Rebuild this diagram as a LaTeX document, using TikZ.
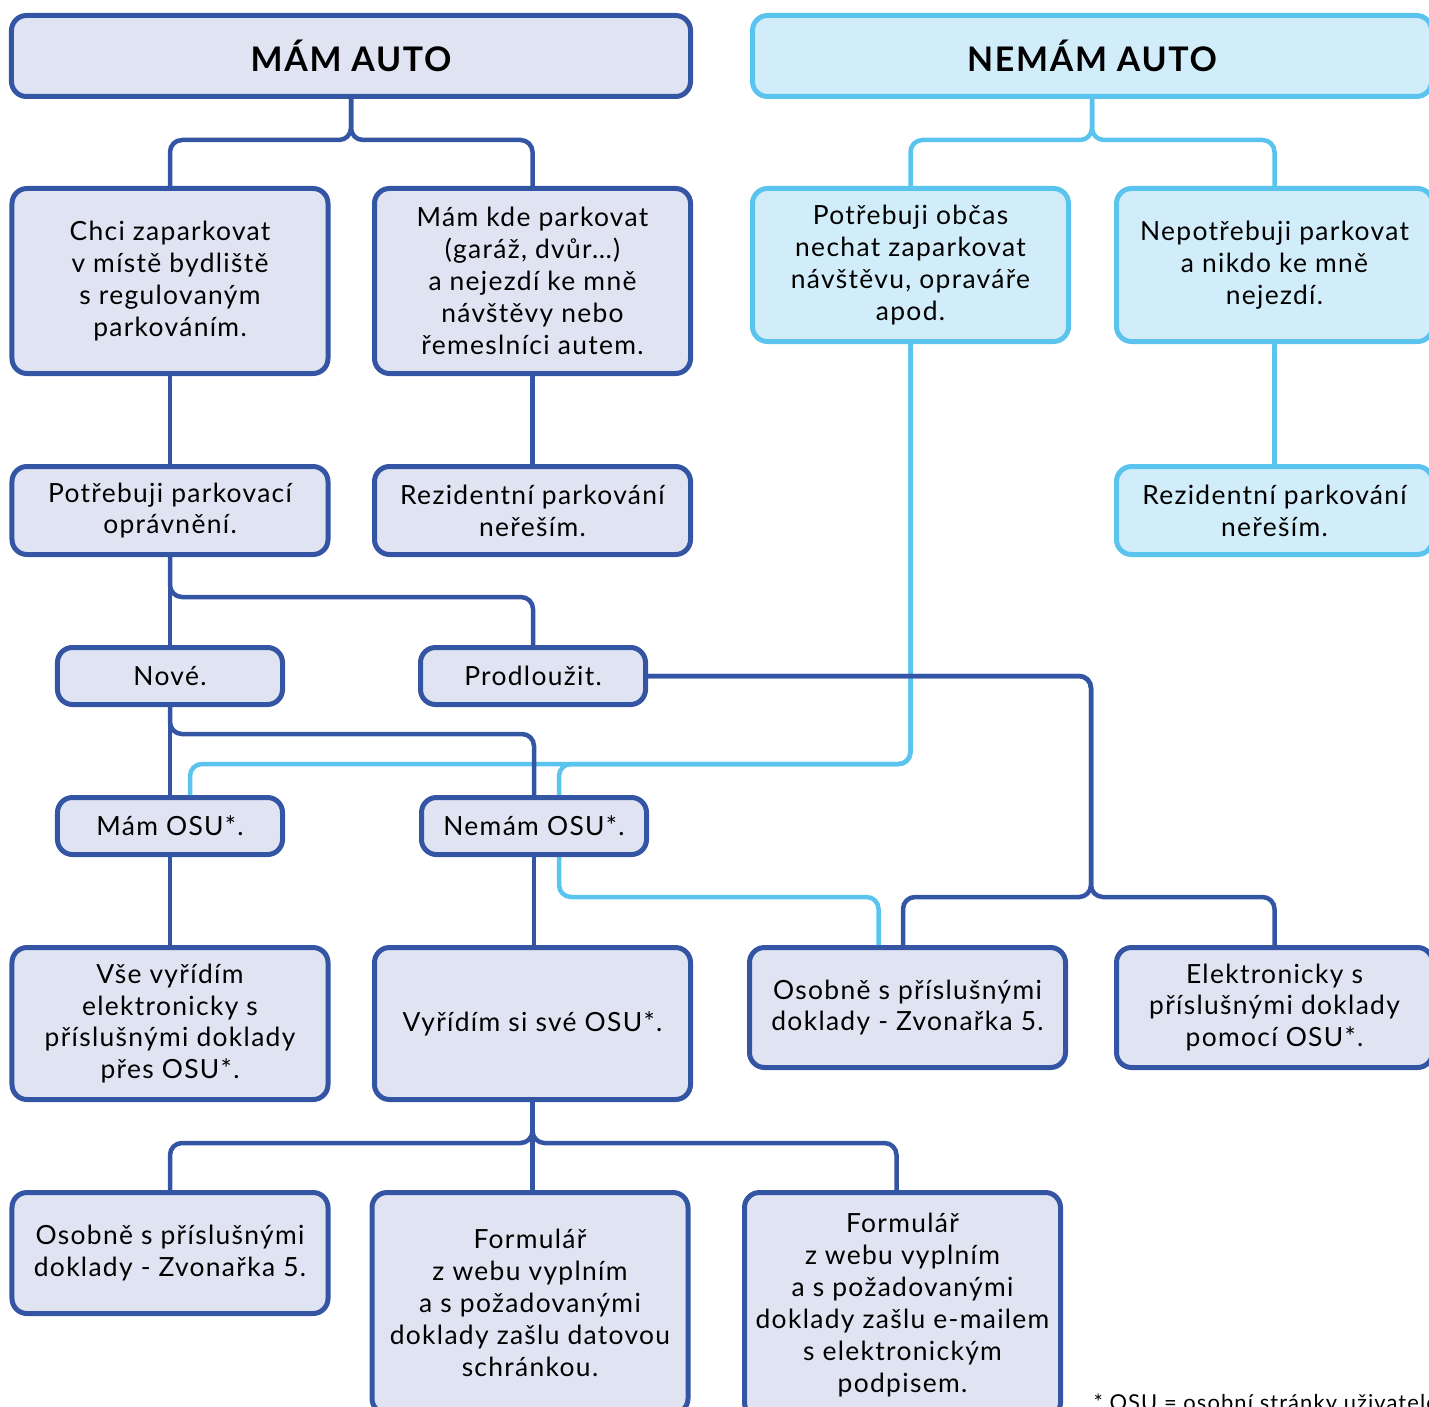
\documentclass[tikz,border=0pt]{standalone}
\usepackage{fontspec}
\setmainfont{Lato}[LetterSpace=5]
\usepackage{xcolor}
\usetikzlibrary{calc}

\definecolor{darkblue}{RGB}{52,85,164}
\definecolor{lavender}{RGB}{224,227,242}
\definecolor{skyblue}{RGB}{91,196,238}
\definecolor{paleblue}{RGB}{210,237,250}

\begin{document}
\begin{tikzpicture} [
       x=1bp, y=1bp,
       box/.style={rectangle, draw=darkblue, line width=5bp, fill=lavender,
               rounded corners=15bp, align=center, inner sep=0pt,
               minimum width=316bp, font=\fontsize{26.5}{32}\selectfont},
       boxlight/.style={box, draw=skyblue, fill=paleblue},
       titre/.style={minimum width=679bp, minimum height=81bp,
               font=\fontsize{34}{40}\selectfont\bfseries},
       petit/.style={minimum width=225bp, minimum height=57bp},
       line/.style     = {draw=darkblue, line width=4.5bp, rounded corners=12bp},
       linelight/.style = {line, draw=skyblue},
       ]
       \useasboundingbox (0,0) rectangle (1429,-1407);
       % titles
       \node (mam) [box, titre] at (351,-56) {MÁM AUTO};
       \node (nemam) [boxlight, titre, node distance=741bp, right of=mam] {NEMÁM AUTO};
       % mam auto
       \node (chci) [box, minimum height=185bp] at (170,-281)
              {Chci zaparkovat\\v místě bydliště\\s regulovaným\\parkováním.};
       \node (kde) [box, minimum height=185bp, node distance=362.5bp, right of=chci]
              {Mám kde parkovat\\(garáž, dvůr…)\\a nejezdí ke mně\\návštěvy nebo\\řemeslníci autem.};
       \node (opravneni) [box, minimum height=88bp, node distance=229.5bp, below of=chci]
              {Potřebuji parkovací\\oprávnění.};
       \node (rezL) [box, minimum height=88bp, node distance=229.5bp, below of=kde]
              {Rezidentní parkování\\neřeším.};
       \node (nove) [box, petit, node distance=165.5bp, below of=opravneni] {Nové.};
       \node (prodl) [box, petit, node distance=363bp, right of=nove] {Prodloužit.};
       \node (mamosu) [box, petit, node distance=150bp, below of=nove] {Mám OSU*.};
       \node (nemamosu) [box, petit, node distance=364bp, right of=mamosu] {Nemám OSU*.};
       \node (vse) [box, minimum height=152bp, node distance=197.5bp, below of=mamosu]
              {Vše vyřídím\\elektronicky s\\příslušnými doklady\\přes OSU*.};
       \node (vyridim) [box, minimum height=152bp, node distance=362.5bp, right of=vse]
              {Vyřídím si své OSU*.};
       \node (osobneL) [box, minimum height=121bp, node distance=229.5bp, below of=vse]
              {Osobně s příslušnými\\doklady - Zvonařka 5.};
       \node (formDS) [box, minimum height=221bp] at (530,-1303)
              {Formulář\\z webu vyplním\\a s požadovanými\\doklady zašlu datovou\\schránkou.};
       \node (formEM) [box, minimum height=225bp] at (902.5,-1305)
              {Formulář\\z webu vyplním\\a s požadovanými\\doklady zašlu e-mailem\\s elektronickým\\podpisem.};
       \node (osobneR) [box, minimum height=120bp] at (907.5,-1007.5)
              {Osobně s příslušnými\\doklady - Zvonařka 5.};
       \node (elektr) [box, minimum height=120bp, node distance=367bp, right of=osobneR]
              {Elektronicky s\\příslušnými doklady\\pomocí OSU*.};
       % nemam auto
       \node (obcas) [boxlight, minimum height=153bp] at (910.5,-265)
              {Potřebuji občas\\nechat zaparkovat\\návštěvu, opraváře\\apod.};
       \node (nepotreb) [boxlight, minimum height=153bp, node distance=364bp, right of=obcas]
              {Nepotřebuji parkovat\\a nikdo ke mně\\nejezdí.};
       \node (rezR) [boxlight, minimum height=88bp, node distance=245.5bp, below of=nepotreb]
              {Rezidentní parkování\\neřeším.};
       \node (note) [anchor=base west, font=\fontsize{22}{26}\selectfont] at (1090,-1410)
              {* OSU = osobní stránky uživatele};

        \begin{scope}[every path/.style=linelight]
        \path (nemam.south) |- ($(obcas.north)+(0,46)$) -- (obcas.north);
        \path (nemam.south) |- ($(nepotreb.north)+(0,46)$) -- (nepotreb.north);
        \path (nepotreb.south) -- (rezR.north);
        \path (obcas.south) |- ($(mamosu.north)+(20,31)$) -- ($(mamosu.north)+(20,0)$);
        \path (obcas.south) |- ($(nemamosu.north)+(25,31)$) -- ($(nemamosu.north)+(25,0)$);
        \path ($(nemamosu.south)+(25,0)$) |- ($(osobneR.north)+(-29,48)$) -- ($(osobneR.north)+(-29,0)$);
        \end{scope}
        \begin{scope}[every path/.style=line]
        \path (mam.south) |- ($(chci.north)+(0,46)$) -- (chci.north);
        \path (mam.south) |- ($(kde.north)+(0,46)$) -- (kde.north);
        \path (chci.south) -- (opravneni.north);
        \path (kde.south) -- (rezL.north);
        \path (opravneni.south) -- (nove.north);
        \path (opravneni.south) |- ($(prodl.north)+(0,48)$) -- (prodl.north);
        \path (nove.south) -- (mamosu.north);
        \path (nove.south) |- ($(nemamosu.north)+(0,61)$) -- (nemamosu.north);
        \path (mamosu.south) -- (vse.north);
        \path (nemamosu.south) -- (nemamosu.south |- vyridim.north);
        \path (prodl.east) -| ($(osobneR.north)+(183.5,48)$) -| ($(osobneR.north)+(-4.5,0)$);
        \path (prodl.east) -| ($(osobneR.north)+(183.5,48)$) -| (elektr.north);
        \path (vyridim.south) |- ($(osobneL.north)+(0,47)$) -- (osobneL.north);
        \path (vyridim.south) -- (vyridim.south |- formDS.north);
        \path (vyridim.south) |- ($(formEM.north)+(-6,47)$) -- ($(formEM.north)+(-6,0)$);
        \end{scope}
\end{tikzpicture}
\end{document}
